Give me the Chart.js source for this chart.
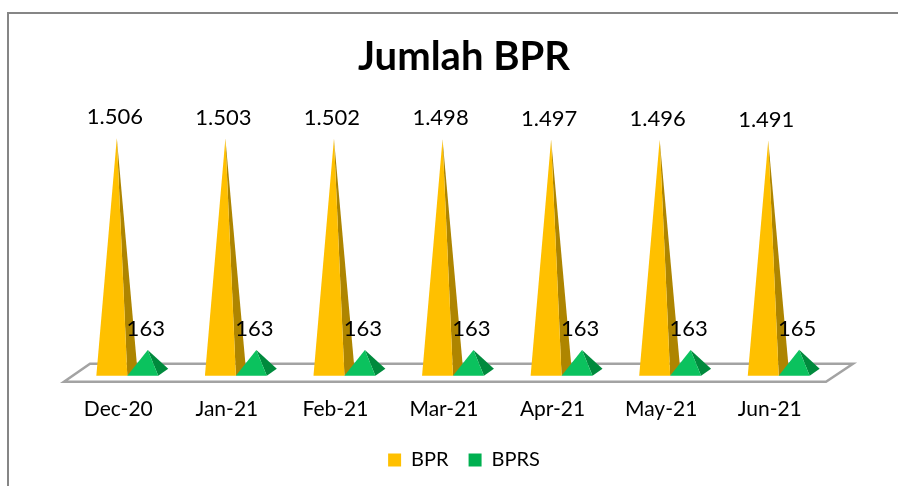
<!DOCTYPE html>
<html>
<head>
<meta charset="utf-8">
<script src="https://cdn.jsdelivr.net/npm/chart.js@4.4.1/dist/chart.umd.min.js"></script>
<style>
	html, body { margin: 0; padding: 0; background: #fff; }
	#wrap { width: 898px; height: 486px; position: relative; }
</style>
</head>
<body>
<div id="wrap"><canvas id="myChart" width="898" height="486"></canvas></div>
<script>
var bulan = [ "Dec-20", "Jan-21", "Feb-21", "Mar-21", "Apr-21", "May-21", "Jun-21" ];
var bpr = [ 1506, 1503, 1502, 1498, 1497, 1496, 1491 ];
var bprs = [ 163, 163, 163, 163, 163, 163, 165 ];

var warnaDepan = [ '#FFC000', '#0BC25E' ];
var warnaSisi = [ '#AE8500', '#008A3D' ];

// format angka gaya Indonesia: 1506 -> 1.506
function formatAngka(v) {
	return String(v).replace(/\B(?=(\d{3})+(?!\d))/g, '.');
}

var bingkai = {
	id : 'bingkai',
	beforeDraw : function(chart) {
		var ctx = chart.ctx;
		ctx.save();
		ctx.fillStyle = '#fff';
		ctx.fillRect(0, 0, chart.width, chart.height);
		ctx.strokeStyle = '#868686';
		ctx.lineWidth = 2;
		ctx.beginPath();
		ctx.moveTo(8, chart.height);
		ctx.lineTo(8, 13);
		ctx.lineTo(chart.width, 13);
		ctx.stroke();
		ctx.restore();
	}
};

// lantai 3D + piramida digambar dari posisi bar
var piramida = {
	id : 'piramida',
	beforeDatasetsDraw : function(chart) {
		var ctx = chart.ctx;
		var area = chart.chartArea;
		var y0 = chart.scales.y.getPixelForValue(0) + 6;
		ctx.save();
		ctx.beginPath();
		ctx.moveTo(area.left, y0);
		ctx.lineTo(area.right + 2, y0);
		ctx.lineTo(area.right + 29, y0 - 18);
		ctx.lineTo(area.left + 26, y0 - 18);
		ctx.closePath();
		ctx.fillStyle = '#fff';
		ctx.fill();
		ctx.strokeStyle = '#a3a3a3';
		ctx.lineWidth = 2.5;
		ctx.stroke();
		ctx.restore();
	},
	beforeDatasetDraw : function() {
		return false;
	},
	afterDatasetsDraw : function(chart) {
		var ctx = chart.ctx;
		var dx = 10, dy = 7, geser = 9;
		ctx.save();
		chart.data.datasets.forEach(function(ds, i) {
			var meta = chart.getDatasetMeta(i);
			meta.data.forEach(function(bar, j) {
				var w = bar.width;
				var kiri = bar.x + geser - w / 2;
				var kanan = bar.x + geser + w / 2;
				var base = bar.base;
				var px = bar.x + geser + dx / 2;
				var py = bar.y;
				// sisi kanan
				ctx.beginPath();
				ctx.moveTo(px, py);
				ctx.lineTo(kanan, base);
				ctx.lineTo(kanan + dx, base - dy);
				ctx.closePath();
				ctx.fillStyle = warnaSisi[i];
				ctx.fill();
				// sisi depan
				ctx.beginPath();
				ctx.moveTo(px, py);
				ctx.lineTo(kiri, base);
				ctx.lineTo(kanan, base);
				ctx.closePath();
				ctx.fillStyle = warnaDepan[i];
				ctx.fill();
				// label nilai
				ctx.fillStyle = '#000';
				ctx.font = '22px Lato';
				ctx.textAlign = 'center';
				ctx.textBaseline = 'middle';
				ctx.fillText(formatAngka(ds.data[j]), px - 2, py - 21);
			});
		});
		ctx.restore();
	}
};

var ctx = document.getElementById('myChart').getContext('2d');
var chart = new Chart(ctx, {
	type : 'bar',
	data : {
		labels : bulan,
		datasets : [ {
			label : 'BPR',
			backgroundColor : '#FFC000',
			data : bpr
		}, {
			label : 'BPRS',
			backgroundColor : '#00B050',
			data : bprs
		} ]
	},
	options : {
		responsive : false,
		animation : false,
		layout : {
			padding : { left : 64, right : 34, top : 0, bottom : 6 }
		},
		datasets : {
			bar : { categoryPercentage : 0.57, barPercentage : 1 }
		},
		scales : {
			x : {
				grid : { display : false, drawTicks : false },
				border : { display : false },
				ticks : {
					color : '#000',
					padding : 21,
					font : { family : 'Lato', size : 21 }
				},
				afterFit : function(scale) {
					scale.height = scale.height - 13;
				}
			},
			y : {
				position : 'right',
				min : 0,
				max : 1747,
				grid : { display : false },
				border : { display : false },
				ticks : { display : false },
				afterFit : function(scale) {
					scale.width = 40;
				}
			}
		},
		plugins : {
			title : {
				display : true,
				text : 'Jumlah BPR',
				color : '#000',
				font : { family : 'Lato', size : 40, weight : 'bold', lineHeight : 1.2 },
				padding : { top : 33, bottom : 19 }
			},
			legend : {
				position : 'bottom',
				labels : {
					color : '#000',
					boxWidth : 13,
					boxHeight : 13,
					padding : 20,
					font : { family : 'Lato', size : 20 }
				}
			},
			tooltip : { enabled : false }
		}
	},
	plugins : [ bingkai, piramida ]
});
</script>
</body>
</html>
